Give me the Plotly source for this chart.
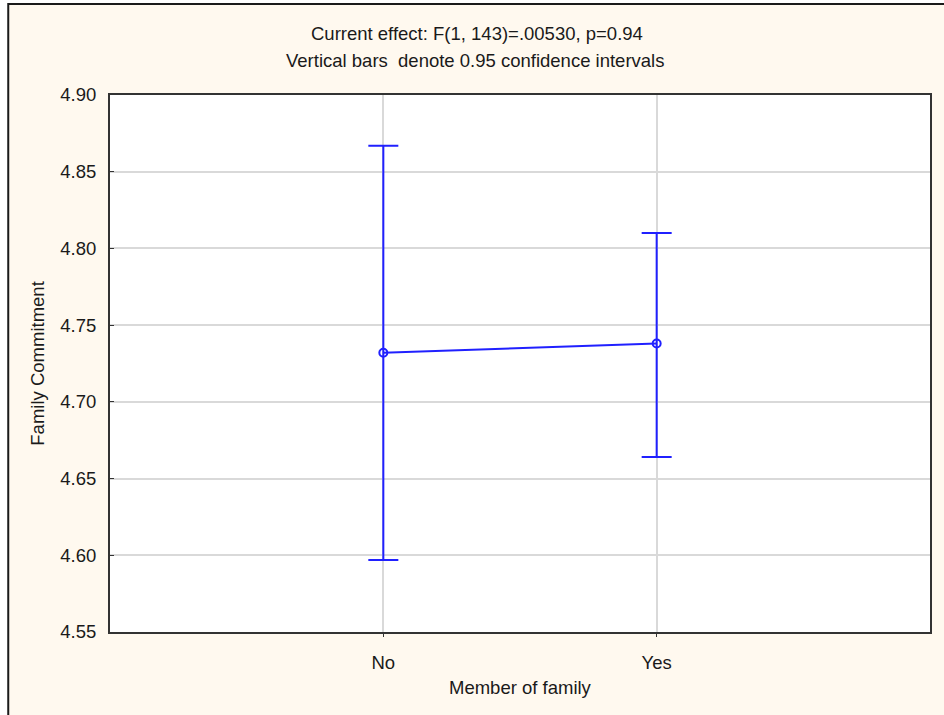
import plotly.graph_objects as go

categories = ["No", "Yes"]
means = [4.732, 4.738]
upper = [4.867, 4.810]
lower = [4.597, 4.664]
y_ticks = [4.55, 4.60, 4.65, 4.70, 4.75, 4.80, 4.85, 4.90]
title_line1 = "Current effect: F(1, 143)=.00530, p=0.94"
title_line2 = "Vertical bars  denote 0.95 confidence intervals"
x_title = "Member of family"
y_title = "Family Commitment"

err_plus = [u - m for u, m in zip(upper, means)]
err_minus = [m - l for m, l in zip(means, lower)]

BLUE = "#2020ff"
FONT = "Liberation Sans, Arial, sans-serif"
FS = 18.5

W, H = 944, 715
L, R, T, B = 110, 12, 95, 83
pw, ph = W - L - R, H - T - B


def px(x):
    return (x - L) / pw


def py(y):
    return (H - B - y) / ph


fig = go.Figure()
fig.add_trace(go.Scatter(
    x=categories, y=means, mode="lines+markers",
    line=dict(color=BLUE, width=2),
    marker=dict(symbol="circle-open", size=8, color=BLUE, line=dict(width=2, color=BLUE)),
    error_y=dict(type="data", symmetric=False, array=err_plus, arrayminus=err_minus,
                 color=BLUE, thickness=2, width=15),
    showlegend=False,
))

fig.update_layout(
    width=W, height=H,
    margin=dict(l=L, r=R, t=T, b=B),
    paper_bgcolor="white",
    plot_bgcolor="white",
    font=dict(family=FONT, size=FS, color="#1a1a1a"),
    xaxis=dict(
        type="category", range=[-1, 2],
        showgrid=True, gridcolor="#d9d9d9", gridwidth=1.5,
        showline=True, mirror=True, linecolor="#333333", linewidth=2,
        ticks="outside", ticklen=3, tickcolor="#333333",
        ticklabelstandoff=10,
        tickfont=dict(size=FS),
        zeroline=False,
    ),
    yaxis=dict(
        range=[4.55, 4.90], tickvals=y_ticks,
        ticktext=[f"{v:.2f}" for v in y_ticks],
        showgrid=True, gridcolor="#d9d9d9", gridwidth=1.5,
        showline=True, mirror=True, linecolor="#333333", linewidth=2,
        ticks="inside", ticklen=4, tickcolor="#333333",
        ticklabelstandoff=8,
        tickfont=dict(size=FS),
        zeroline=False,
    ),
    shapes=[
        dict(type="rect", xref="paper", yref="paper", layer="below",
             x0=px(8), x1=px(960), y0=py(730), y1=py(4),
             fillcolor="#fff9ef", line=dict(color="#1a1a1a", width=2)),
        dict(type="rect", xref="paper", yref="paper", layer="below",
             x0=0, x1=1, y0=0, y1=1,
             fillcolor="white", line=dict(width=0)),
    ],
    annotations=[
        dict(text=title_line1, xref="paper", yref="paper", x=px(478), y=py(33),
             showarrow=False, xanchor="center", yanchor="middle", font=dict(size=FS)),
        dict(text=title_line2, xref="paper", yref="paper", x=px(476), y=py(61),
             showarrow=False, xanchor="center", yanchor="middle", font=dict(size=FS)),
        dict(text=x_title, xref="paper", yref="paper", x=0.5, y=py(688),
             showarrow=False, xanchor="center", yanchor="middle", font=dict(size=FS)),
        dict(text=y_title, xref="paper", yref="paper", x=px(37), y=0.5, textangle=-90,
             showarrow=False, xanchor="center", yanchor="middle", font=dict(size=FS)),
    ],
)

fig.write_html("out.html")
